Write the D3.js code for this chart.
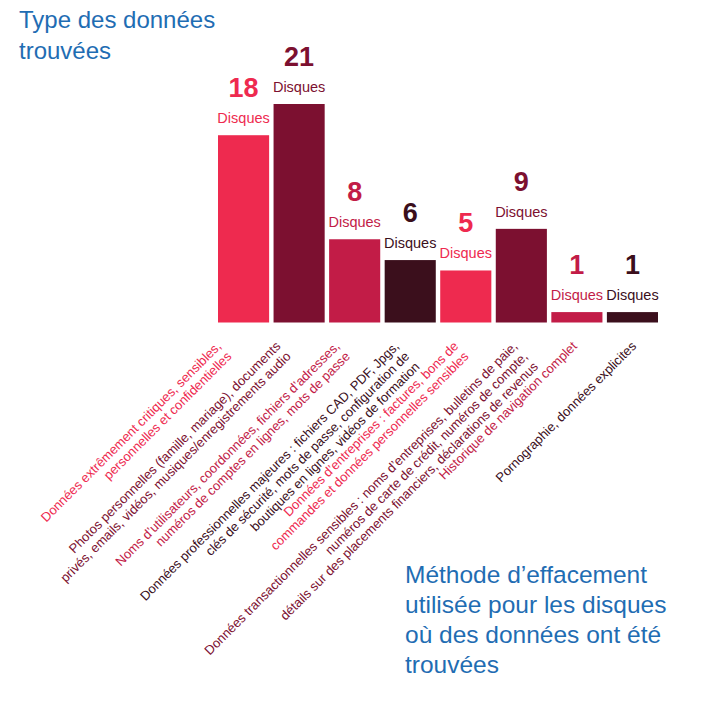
<!DOCTYPE html>
<html>
<head>
<meta charset="utf-8">
<script src="https://cdn.jsdelivr.net/npm/d3@7"></script>
<style>
  body { margin: 0; background: #fff; }
  svg { font-family: "Liberation Sans", Arial, sans-serif; }
</style>
</head>
<body>
<div id="chart"></div>
<script>
// disks per type of data found
const counts = [18, 21, 8, 6, 5, 9, 1, 1];
const unitLabel = "Disques";
const categories = [
  ["Données extrêmement critiques, sensibles,", "personnelles et confidentielles"],
  ["Photos personnelles (famille, mariage), documents", "privés, emails, vidéos, musiques/enregistrements audio"],
  ["Noms d’utilisateurs, coordonnées, fichiers d’adresses,", "numéros de comptes en lignes, mots de passe"],
  ["Données professionnelles majeures : fichiers CAD, PDF, Jpgs,", "clés de sécurité, mots de passe, configuration de", "boutiques en lignes, vidéos de formation"],
  ["Données d’entreprises : factures, bons de", "commandes et données personnelles sensibles"],
  ["Données transactionnelles sensibles : noms d’entreprises, bulletins de paie,", "numéros de carte de crédit, numéros de compte,", "détails sur des placements financiers, déclarations de revenus"],
  ["Historique de navigation complet"],
  ["Pornographie, données explicites"]
];
const titleTop = ["Type des données", "trouvées"];
const titleBottom = ["Méthode d’effacement", "utilisée pour les disques", "où des données ont été", "trouvées"];

const palette = ["#ee2a4f", "#7c1030", "#c21c47", "#3b0f1c"];
const blue = "#1f6db3";

const width = 703, height = 703;
const svg = d3.select("#chart").append("svg")
    .attr("width", width)
    .attr("height", height);

const x = d3.scaleBand()
    .domain(d3.range(counts.length))
    .range([218, 658])
    .paddingInner(0.08)
    .paddingOuter(0);

// the slanted labels fan out a little wider than the bars
const xLabel = d3.scalePoint()
    .domain(d3.range(counts.length))
    .range([222, 637]);

const y = d3.scaleLinear()
    .domain([0, 21])
    .range([322.5, 104]);

const color = i => palette[i % palette.length];

svg.selectAll("rect.bar")
    .data(counts)
    .enter().append("rect")
    .attr("class", "bar")
    .attr("x", (d, i) => x(i))
    .attr("width", x.bandwidth())
    .attr("y", d => y(d))
    .attr("height", d => y(0) - y(d))
    .style("fill", (d, i) => color(i));

// value + unit above each bar
const lab = svg.selectAll("g.val")
    .data(counts)
    .enter().append("g")
    .attr("class", "val")
    .attr("transform", (d, i) => `translate(${x(i) + x.bandwidth() / 2},${y(d)})`);

lab.append("text")
    .attr("y", -38)
    .attr("text-anchor", "middle")
    .style("font-size", "27px")
    .style("font-weight", "bold")
    .style("fill", (d, i) => color(i))
    .text(d => d);

lab.append("text")
    .attr("y", -12)
    .attr("text-anchor", "middle")
    .style("font-size", "14.5px")
    .style("fill", (d, i) => color(i))
    .text(unitLabel);

// rotated category labels
const cat = svg.selectAll("text.cat")
    .data(categories)
    .enter().append("text")
    .attr("class", "cat")
    .attr("transform", (d, i) => `translate(${xLabel(i)},347) rotate(-45)`)
    .attr("text-anchor", "end")
    .style("font-size", "13px")
    .style("fill", (d, i) => color(i));

cat.selectAll("tspan")
    .data(d => d)
    .enter().append("tspan")
    .attr("x", 0)
    .attr("dy", (d, j) => j === 0 ? 0 : 14.5)
    .text(d => d);

// titles
svg.append("text")
    .style("font-size", "24px")
    .style("fill", blue)
    .selectAll("tspan")
    .data(titleTop)
    .enter().append("tspan")
    .attr("x", 19)
    .attr("y", (d, j) => 28 + j * 31)
    .text(d => d);

svg.append("text")
    .style("font-size", "24.5px")
    .style("fill", blue)
    .selectAll("tspan")
    .data(titleBottom)
    .enter().append("tspan")
    .attr("x", 405)
    .attr("y", (d, j) => 583 + j * 30)
    .text(d => d);
</script>
</body>
</html>
